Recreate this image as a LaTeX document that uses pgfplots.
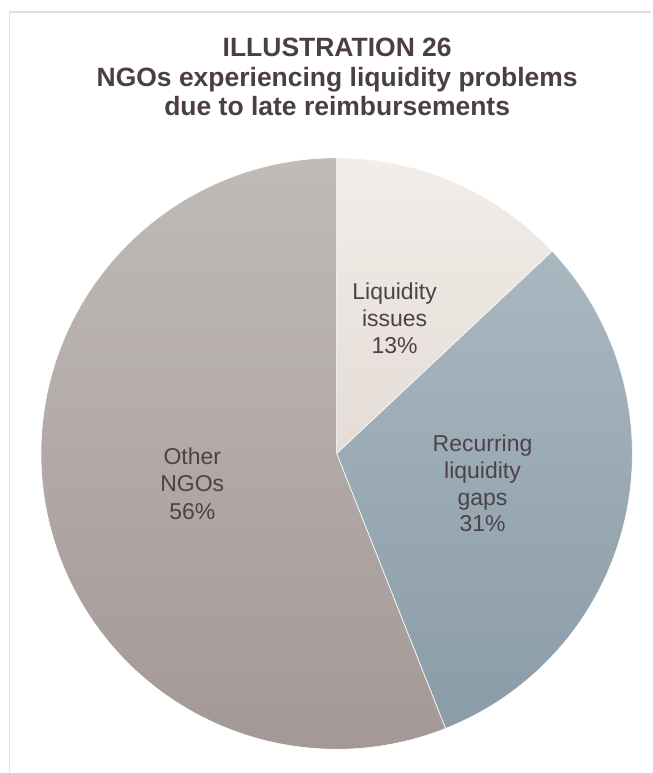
\documentclass[border=0pt]{standalone}
\usepackage{pgfplots}
\usepackage{pgfplotstable}
\pgfplotsset{compat=1.18}
\usepackage{fontspec}
\setmainfont{Liberation Sans}
\definecolor{titlec}{HTML}{4B3F44}
\definecolor{labc}{HTML}{4D4246}
\definecolor{frame}{HTML}{E2DDDD}
\definecolor{liqT}{HTML}{F1EDE8}
\definecolor{liqB}{HTML}{E5DCD6}
\definecolor{recT}{HTML}{A9B7C0}
\definecolor{recB}{HTML}{8A9CA8}
\definecolor{othT}{HTML}{C0BBB7}
\definecolor{othB}{HTML}{A39895}

\pgfplotstableread{
label value
Liquidity 13
Recurring 31
Other 56
}\piedata

\begin{document}
\begin{tikzpicture}
\pgfplotstablegetelem{0}{value}\of\piedata \let\vA\pgfplotsretval
\pgfplotstablegetelem{1}{value}\of\piedata \let\vB\pgfplotsretval
\pgfplotstablegetelem{2}{value}\of\piedata \let\vC\pgfplotsretval
\pgfmathsetmacro\aA{90}
\pgfmathsetmacro\aB{90-3.6*\vA}
\pgfmathsetmacro\aC{\aB-3.6*\vB}
\pgfmathsetmacro\aD{\aC-3.6*\vC}
\begin{axis}[
  hide axis, scale only axis,
  width=652bp, height=773bp,
  xmin=0, xmax=652, ymin=0, ymax=773,
  clip=false,
]
\path (0,0) rectangle (652,773);
% frame
\draw[frame, line width=1.5bp] (9.5,0) -- (9.5,761) -- (652,761);
% slices
\addplot[draw=white, line width=0.6bp, top color=liqT, bottom color=liqB,
  domain=\aA:\aB, samples=80, variable=\t]
  ({337+296*cos(\t)}, {319+296*sin(\t)}) -- (337,319) -- cycle;
\addplot[draw=white, line width=0.6bp, top color=recT, bottom color=recB,
  domain=\aB:\aC, samples=120, variable=\t]
  ({337+296*cos(\t)}, {319+296*sin(\t)}) -- (337,319) -- cycle;
\addplot[draw=white, line width=0.6bp, top color=othT, bottom color=othB,
  domain=\aC:\aD, samples=200, variable=\t]
  ({337+296*cos(\t)}, {319+296*sin(\t)}) -- (337,319) -- cycle;
% title
\tikzset{ttl/.style={anchor=base, text=titlec, font=\fontsize{26.5bp}{30bp}\selectfont\bfseries}}
\node[ttl] at (337.5,716) {ILLUSTRATION 26};
\node[ttl] at (337.5,686) {NGOs experiencing liquidity problems};
\node[ttl] at (337.5,657) {due to late reimbursements};
% labels
\tikzset{lab/.style={anchor=base, text=labc, font=\fontsize{23bp}{27bp}\selectfont, inner sep=0pt}}
\node[lab] at (395,473) {Liquidity};
\node[lab] at (395,446) {issues};
\node[lab] at (395,419) {13\%};
\node[lab] at (483,321.5) {Recurring};
\node[lab] at (483,294.5) {liquidity};
\node[lab] at (483,267.5) {gaps};
\node[lab] at (483,240.5) {31\%};
\node[lab] at (192.5,308) {Other};
\node[lab] at (192.5,281) {NGOs};
\node[lab] at (192.5,253) {56\%};
\end{axis}
\end{tikzpicture}
\end{document}
